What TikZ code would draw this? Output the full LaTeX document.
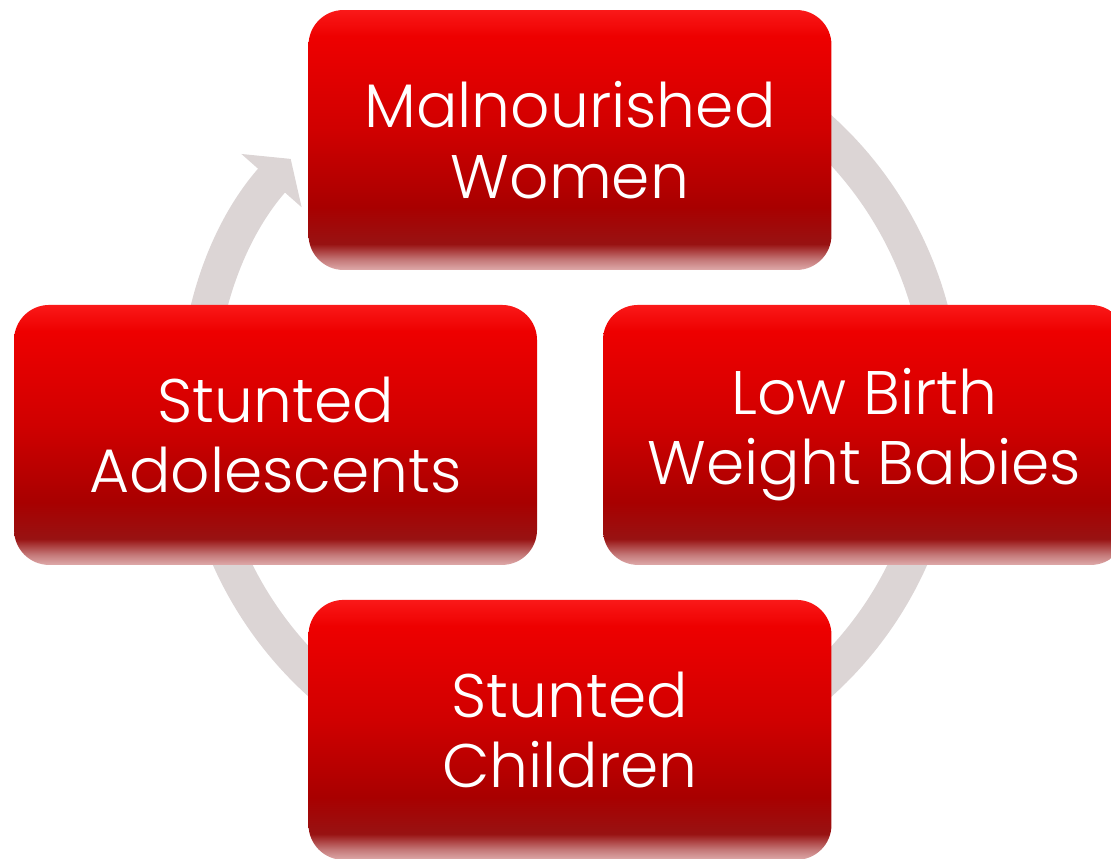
\documentclass[tikz,border=0pt]{standalone}
\usepackage{fontspec}
\setmainfont{Poppins}[UprightFont=*-Light]
\usetikzlibrary{arrows.meta,positioning,backgrounds}

\definecolor{boxtop}{RGB}{250,25,25}
\definecolor{boxhigh}{RGB}{238,0,0}
\definecolor{boxmid}{RGB}{208,0,0}
\definecolor{boxdark}{RGB}{168,0,0}
\definecolor{boxdeep}{RGB}{152,18,18}
\definecolor{boxrim}{RGB}{196,120,120}
\definecolor{boxpale}{RGB}{222,170,170}
\definecolor{ringgray}{RGB}{220,213,213}
\pgfdeclareverticalshading{boxshade}{100bp}{color(0bp)=(boxpale); color(25bp)=(boxpale);
  color(27bp)=(boxrim); color(30bp)=(boxdeep); color(37bp)=(boxdark);
  color(52bp)=(boxmid); color(70bp)=(boxhigh); color(75bp)=(boxtop); color(100bp)=(boxtop)}

\begin{document}
\begin{tikzpicture}[
  x=0.02cm, y=0.02cm,
  node distance=5.9cm and 5.89cm, on grid,
  stage/.style={rectangle, rounded corners=0.7cm, shade, shading=boxshade,
    minimum width=10.46cm, minimum height=5.2cm, inner sep=0pt,
    align=center, text=white, font=\fontsize{35}{40}\selectfont},
  loopring/.style={line width=0.72cm, draw=ringgray,
    -{Triangle[width=1.58cm 0 0, length=0.58cm 0 0]}}]
  \useasboundingbox (0,0) rectangle (1111,-858);
  \node[stage] (mw) at (570,-140) {Malnourished\\Women};
  \node[stage, below left=of mw] (sa) {Stunted\\Adolescents};
  \node[stage, below right=of mw] (lb) {Low Birth\\Weight Babies};
  \node[stage, below right=of sa] (sc) {Stunted\\Children};
  \begin{scope}[on background layer]
    \coordinate (hub) at (570,-406);
    \draw[loopring] (hub) ++(70:7.46cm)
      arc[start angle=70, end angle=-221.5, radius=7.46cm];
  \end{scope}
\end{tikzpicture}
\end{document}
